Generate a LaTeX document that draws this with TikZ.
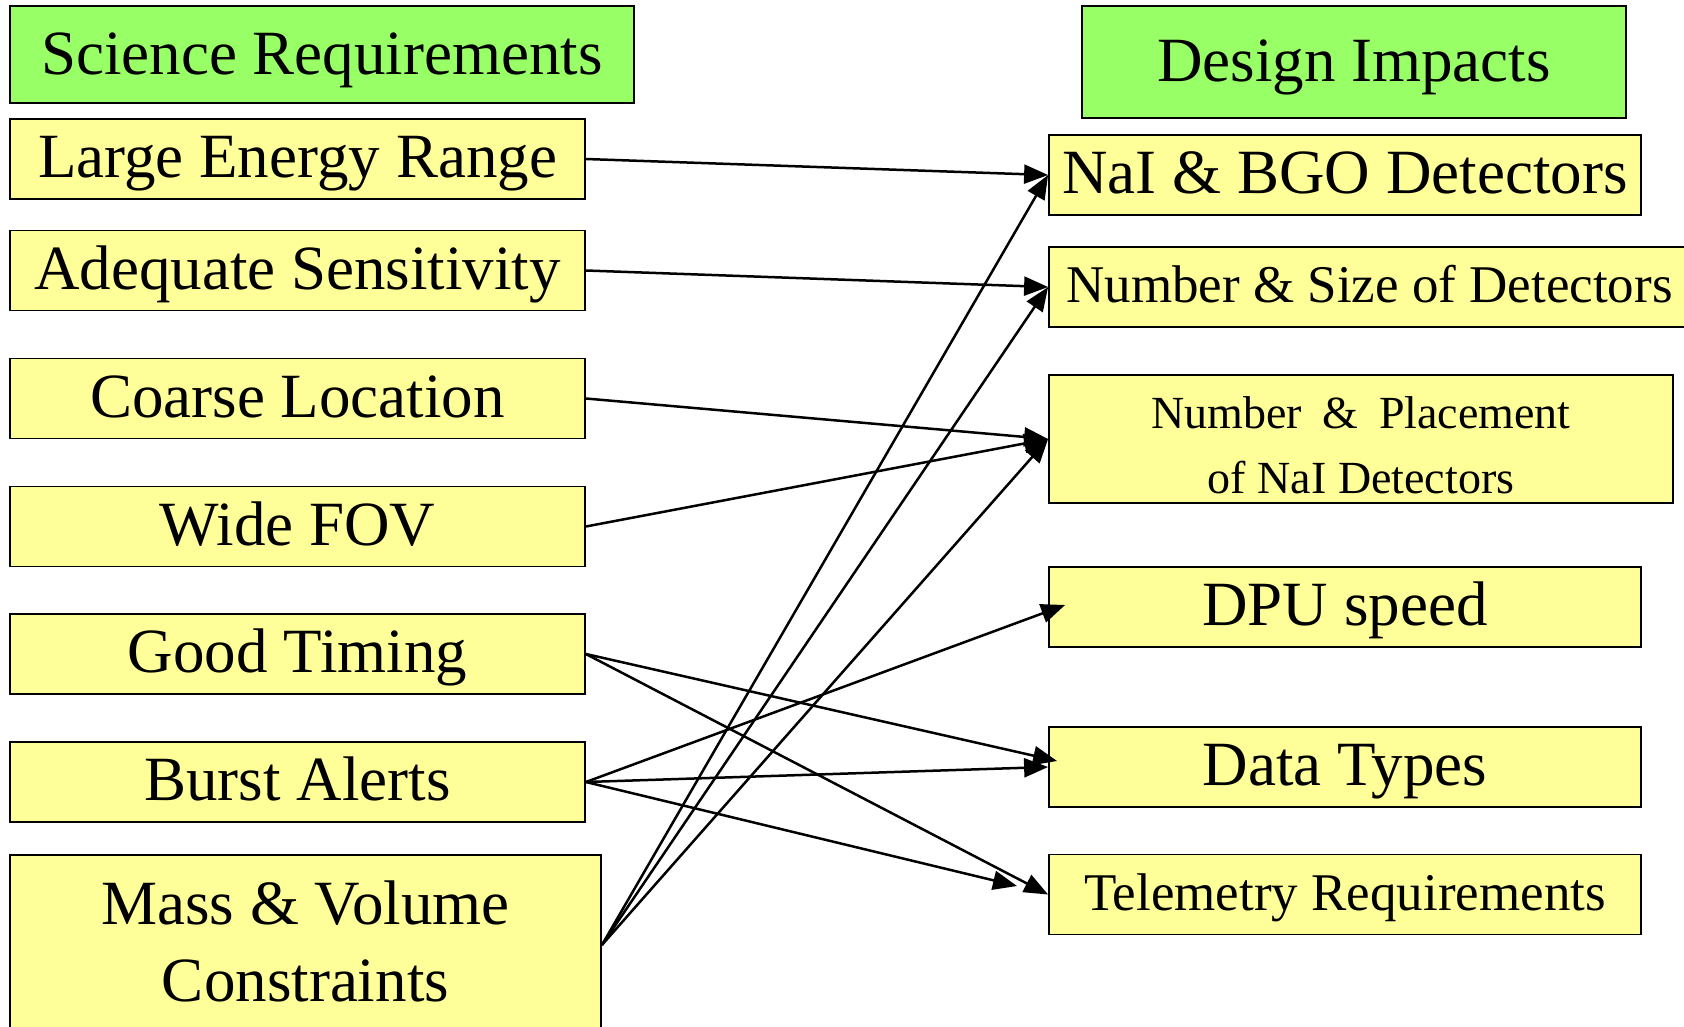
\documentclass[tikz,border=0pt]{standalone}
\usepackage{fontspec}
\setmainfont{Liberation Serif}
\usetikzlibrary{arrows.meta}
\definecolor{headgreen}{RGB}{153,255,102}
\definecolor{boxyellow}{RGB}{255,255,153}

\begin{document}
\begin{tikzpicture}[x=1pt, y=-1pt,
    box/.style={draw=black, line width=1.8pt, inner sep=0pt, align=center},
    big/.style={font=\fontsize{63}{77}\selectfont, text height=48pt, text depth=11pt},
    mid/.style={font=\fontsize{53}{64}\selectfont, text height=42pt, text depth=11pt},
    head/.style={box, big, fill=headgreen, text height=50pt},
    req/.style={box, big, fill=boxyellow, minimum width=575pt, minimum height=80pt},
    imp/.style={box, big, fill=boxyellow, minimum width=592pt, minimum height=80pt},
    link/.style={line width=2.5pt, -{Triangle[length=24pt,width=19pt]}}]

  \useasboundingbox (0,0) rectangle (1684,1026);

  \node[head, minimum width=624pt, minimum height=97pt] (sci) at (322,54.5) {Science Requirements};
  \node[req] (energy) at (297.5,159) {Large Energy Range};
  \node[req] (sens) at (297.5,270.5) {Adequate Sensitivity};
  \node[req] (coarse) at (297.5,398.5) {Coarse Location};
  \node[req] (fov) at (297.5,526.5) {Wide FOV};
  \node[req] (timing) at (297.5,654) {Good Timing};
  \node[req] (burst) at (297.5,782) {Burst Alerts};
  \node[req, minimum width=591pt, minimum height=180pt, text height=122pt, text depth=10pt]
       (mass) at (305.5,945) {Mass \& Volume\\Constraints};

  \node[head, minimum width=544pt, minimum height=112pt] (design) at (1354,62) {Design Impacts};
  \node[imp] (nai) at (1345,175) {NaI \& BGO Detectors};
  \node[imp, mid, minimum width=641pt] (numsize) at (1369.5,287) {Number \& Size of Detectors};
  \node[imp, minimum width=624pt, minimum height=127pt, font=\fontsize{46}{65}\selectfont,
        text height=118pt, text depth=10pt]
       (place) at (1361,439) {Number\hspace{0.45em}\&\hspace{0.45em}Placement\\of NaI Detectors};
  \node[imp] (dpu) at (1345,607) {DPU speed};
  \node[imp] (data) at (1345,767) {Data Types};
  \node[imp, mid] (tele) at (1345,894.5) {Telemetry Requirements};

  \coordinate (burstend) at (1017,886);

  \draw[link] (energy.east) -- (nai.west);
  \draw[link] (sens.east) -- (numsize.west);
  \draw[link] (coarse.east) -- (place.west);
  \draw[link] (fov.east) -- (place.west);
  \draw[link] (timing.east) -- ([xshift=9pt,yshift=6pt]data.west);
  \draw[link] (timing.east) -- (tele.west);
  \draw[link] (burst.east) -- ([xshift=17pt,yshift=2pt]dpu.west);
  \draw[link] (burst.east) -- (data.west);
  \draw[link] (burst.east) -- (burstend);
  \draw[link] (mass.east) -- (nai.west);
  \draw[link] (mass.east) -- (numsize.west);
  \draw[link] (mass.east) -- (place.west);
\end{tikzpicture}
\end{document}
